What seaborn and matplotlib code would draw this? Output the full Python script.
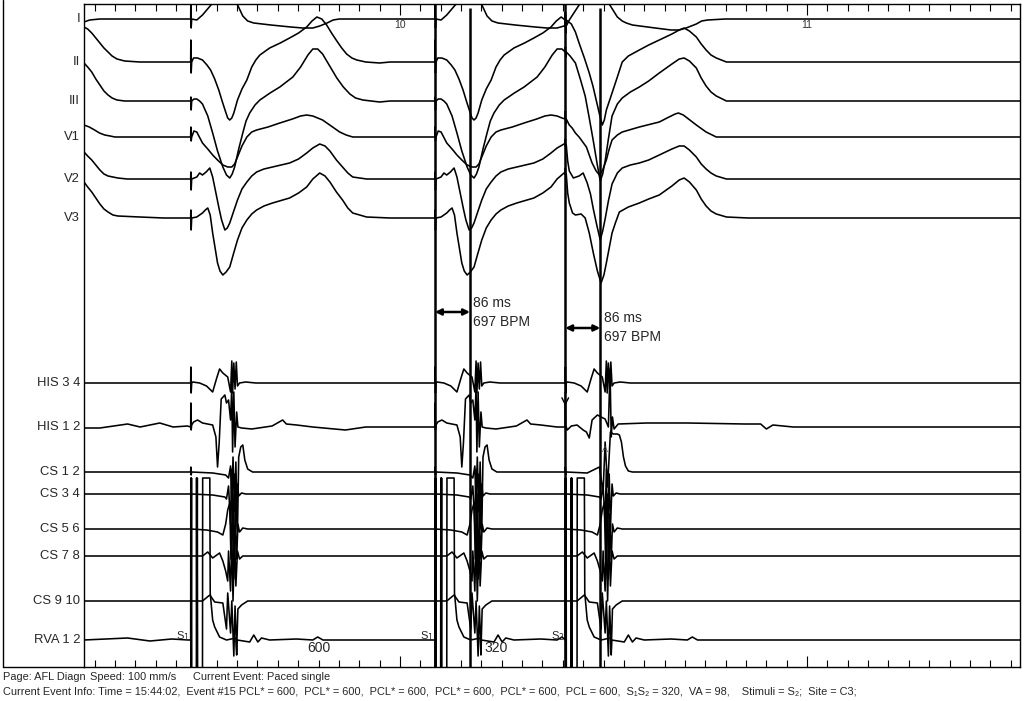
import numpy as np
import pandas as pd
import matplotlib
matplotlib.use("Agg")
import matplotlib.pyplot as plt
import seaborn as sns
from matplotlib.lines import Line2D
from matplotlib.transforms import blended_transform_factory

# ---------------- data (time in ms, deflection in display units, + = up) ----------------
XMIN, XMAX = 9224, 11523
STIM_MS = [9486, 10086, 10406]          # S1, S1, S2
CURSOR_MS = [10086, 10172, 10406, 10492]
INTERVAL_LABELS = ["600", "320"]
MEASURE_MS = ["86 ms", "86 ms"]
MEASURE_BPM = ["697 BPM", "697 BPM"]
CHANNELS = ["I", "II", "III", "V1", "V2", "V3", "HIS 3 4", "HIS 1 2",
            "CS 1 2", "CS 3 4", "CS 5 6", "CS 7 8", "CS 9 10", "RVA 1 2"]

# surface ECG: tail of previous beat, S1 paced beat template, S2 paced beat template
I_PRE = [(9224, -3), (9238, -1), (9263, 0)]
I_S1 = [(0, 0), (0.4, 14), (1.2, -9), (2.5, 0), (15, -1), (29, 4), (54, 16), (69, 32), (84, 40),
        (98, 32), (113, 16), (128, 3), (140, -2), (155, -4), (197, -6), (246, -8), (275, -9),
        (300, -9), (317, -7), (335, -4), (350, -1), (365, 0), (470, 0)]
I_S2 = [(0, -7), (0.4, 5), (1.2, -14), (2.5, -7), (10, -1), (34, 14), (59, 38), (84, 36), (108, 15),
        (128, 2), (140, -2), (150, -4), (165, -6), (221, -9), (260, -11), (280, -11), (297, -9),
        (322, -5), (335, -2), (350, -1), (393, 0)]

II_PRE = [(9224, 35), (9233, 33), (9243, 29), (9253, 24), (9263, 19), (9273, 14), (9283, 10),
          (9293, 6), (9305, 3), (9324, 1), (9361, 0)]
II_S1 = [(0, 0), (0.4, 22), (1.2, -11), (2.5, 0), (7, 4), (17, 4), (29, 2), (40, -3), (49, -8),
         (59, -17), (69, -28), (78, -40), (86, -50), (91, -56), (96, -58), (101, -56), (106, -51),
         (115, -38), (126, -27), (138, -18), (150, -5), (160, 2), (170, 7), (194, 14), (220, 19),
         (243, 24), (265, 29), (285, 35), (298, 41), (310, 45), (322, 43), (334, 37), (346, 29),
         (359, 21), (371, 14), (383, 8), (396, 4), (408, 2), (430, 0), (464, -1), (490, 0)]
II_S2 = [(0, 42), (0.4, 50), (1.2, 34), (2.5, 42), (15, 38), (25, 30), (34, 19), (47, 4), (59, -11),
         (68, -24), (76, -38), (84, -52), (91, -63), (96, -58), (101, -48), (115, -31), (128, -15),
         (140, 0), (155, 6), (182, 12), (205, 17), (231, 22), (262, 28), (280, 32), (292, 34),
         (305, 31), (322, 25), (334, 18), (346, 12), (358, 7), (371, 4), (396, 0)]

III_PRE = [(9224, 38), (9233, 34), (9243, 29), (9253, 22), (9263, 16), (9273, 10), (9283, 6),
           (9293, 3), (9305, 1), (9324, 0)]
III_S1 = [(0, 0), (0.4, 4), (1.2, -9), (2.5, 0), (8, 2), (15, 2), (22, 0), (29, -3), (42, -15),
          (54, -32), (66, -50), (79, -66), (88, -74), (96, -77), (102, -73), (108, -66), (118, -48),
          (128, -32), (136, -20), (145, -12), (158, -4), (170, 1), (195, 8), (219, 14), (251, 24),
          (270, 34), (288, 46), (300, 52), (312, 52), (324, 47), (340, 36), (359, 23), (375, 14),
          (391, 7), (405, 3), (423, 1), (464, -1), (490, 0)]
III_S2 = [(0, 49), (0.4, 54), (1.2, 44), (2.5, 49), (12, 45), (25, 38), (37, 22), (49, 5), (59, -17),
          (69, -40), (78, -62), (86, -80), (92, -73), (98, -60), (106, -38), (115, -15), (128, -3),
          (140, 3), (160, 9), (182, 14), (205, 20), (231, 28), (262, 37), (280, 42), (292, 43),
          (305, 40), (322, 33), (334, 23), (346, 15), (358, 9), (371, 5), (396, 0)]

V1_PRE = [(9224, 12), (9237, 10), (9250, 7), (9262, 4), (9275, 2), (9288, 1), (9300, 0)]
V1_S1 = [(0, 0), (0.4, 10), (1.2, -4), (2.5, 0), (8, 6), (15, 5), (29, -6), (42, -12), (54, -18),
         (66, -23), (79, -28), (91, -30), (101, -30), (108, -27), (115, -20), (126, -9), (138, 0),
         (150, 5), (162, 7), (190, 10), (219, 14), (250, 18), (270, 21), (285, 22), (300, 21),
         (312, 19), (324, 17), (345, 11), (366, 5), (382, 2), (398, 0)]
V1_S2 = [(0, 18), (0.4, 26), (1.2, 13), (2.5, 18), (10, 12), (17, 9), (25, 4), (34, 0), (52, -10),
         (66, -26), (76, -34), (84, -38), (92, -33), (101, -23), (108, -12), (115, -3), (128, 2),
         (140, 5), (182, 10), (231, 15), (255, 20), (270, 23), (278, 24), (290, 22), (306, 17),
         (322, 12), (346, 5), (371, 0)]

V2_PRE = [(9224, 27), (9233, 23), (9243, 19), (9253, 14), (9263, 9), (9273, 5), (9283, 3),
          (9295, 2), (9307, 1), (9330, 0)]
V2_S1 = [(0, 0), (0.4, 7), (1.2, -11), (2.5, 0), (15, 2), (22, 6), (29, 4), (38, 7), (47, 11),
         (54, 2), (64, -18), (70, -30), (76, -41), (84, -51), (90, -49), (96, -44), (105, -33),
         (115, -21), (126, -10), (138, -3), (150, 3), (162, 7), (180, 10), (201, 12), (243, 16),
         (265, 20), (285, 26), (300, 31), (317, 35), (330, 33), (342, 28), (358, 19), (373, 12),
         (386, 6), (398, 2), (432, 0)]
V2_S2 = [(0, 34), (0.4, 40), (1.2, 28), (2.5, 34), (6, 18), (10, 8), (20, 1), (34, 3), (44, 6),
         (54, -4), (62, -15), (69, -30), (78, -47), (86, -61), (92, -52), (98, -40), (106, -22),
         (115, -5), (128, 6), (140, 11), (160, 14), (182, 16), (205, 19), (231, 24), (262, 30),
         (280, 33), (292, 33), (305, 29), (322, 22), (334, 15), (346, 10), (358, 6), (371, 3), (396, 0)]

V3_PRE = [(9224, 36), (9233, 31), (9243, 26), (9253, 20), (9263, 14), (9273, 9), (9283, 6),
          (9295, 3), (9307, 2), (9361, 1), (9420, 0)]
V3_S1 = [(0, 0), (0.4, 8), (1.2, -12), (2.5, 0), (15, 1), (29, 5), (36, 8), (42, 10), (48, 3),
         (54, -15), (60, -30), (66, -45), (72, -53), (79, -57), (87, -54), (96, -49), (105, -36),
         (115, -22), (126, -10), (138, -2), (150, 4), (162, 8), (180, 12), (201, 15), (243, 20),
         (265, 25), (285, 31), (300, 39), (317, 45), (330, 42), (342, 36), (358, 26), (373, 18),
         (386, 10), (398, 5), (432, 1), (490, 0)]
V3_S2 = [(0, 44), (0.4, 50), (1.2, 38), (2.5, 44), (6, 25), (10, 15), (18, 5), (25, 3), (39, 4),
         (49, 0), (59, -15), (69, -35), (79, -53), (88, -65), (95, -57), (101, -45), (108, -30),
         (115, -15), (124, -4), (133, 6), (155, 11), (182, 15), (205, 19), (231, 23), (262, 32),
         (280, 38), (292, 40), (305, 36), (322, 28), (334, 19), (346, 12), (358, 7), (371, 4),
         (396, 1), (450, 0)]

# intracardiac electrograms
FLAT_PRE = [(9224, 0)]
HIS12_PRE = [(9224, -1), (9263, -1), (9297, 1), (9331, 3), (9362, 0), (9410, 4), (9443, 0), (9478, 1)]
RVA_PRE = [(9224, 0), (9331, 2), (9386, -1), (9440, 1), (9480, 0)]

HIS34_S1 = [(0, 0), (0.4, 16), (1.2, -10), (2.5, 0), (5, 1), (22, 0), (39, -3), (54, -9), (64, 5),
            (71, 14), (79, 10), (91, 6), (98, -9), (101, 22), (103, -10), (106, 20), (109, -6),
            (112, 21), (115, -3), (120, 0), (135, 1), (160, 0)]
HIS12_S1 = [(0, 0), (0.4, 24), (1.2, -3), (2.5, 2), (7, 5), (17, 7), (29, 4), (54, 2), (62, -10),
            (66, -40), (70, -16), (75, 28), (84, 32), (88, 24), (93, 27), (98, 7), (101, 40),
            (103, -25), (106, 35), (109, -20), (113, 15), (116, 0), (125, -1), (150, -2), (200, 1),
            (226, 7), (235, 3), (260, 2), (300, 0), (380, -3), (430, 0)]
HIS12_S2 = [(0, 0), (0.4, 24), (1.2, -3), (2.5, 0), (5, -3), (15, 1), (29, 2), (44, -3), (52, -5),
            (59, -11), (66, 7), (79, 12), (88, 10), (98, 8), (106, 0), (110, 58), (113, -10),
            (116, 10), (120, -2), (130, 3), (200, 4), (300, 4), (440, 3), (480, 3), (494, -2),
            (510, 2), (560, 0)]
CS12_S1 = [(0, 0), (0.4, 5), (1.2, -3), (2.5, 0), (54, -1), (86, -3), (93, -6), (98, 6), (101, -35),
           (104, 15), (108, -40), (111, 10), (115, -60), (118, 15), (123, 25), (128, 27), (133, 12),
           (140, 3), (152, 0)]
CS12_S2 = [(0, 0), (0.4, 5), (1.2, -3), (2.5, 0), (54, -1), (84, 5), (93, -20), (98, 30), (104, -15),
           (111, 40), (118, 38), (128, 38), (133, 37), (138, 30), (143, 15), (148, 6), (155, 1), (165, 0)]
CS34_S1 = [(0, 0), (0.4, 2), (1.2, -2), (2.5, 0), (54, -1), (84, -3), (88, -5), (93, 8), (98, -30),
           (101, 25), (104, -45), (108, 20), (111, -35), (115, 10), (118, -2), (125, 1), (135, 0)]
CS56_S1 = [(0, 0), (39, -1), (66, -3), (79, -6), (86, 5), (91, 19), (96, 26), (99, -30), (103, 35),
           (106, -50), (109, 15), (113, -30), (116, 5), (120, -3), (128, 1), (140, 0)]
CS78_S1 = [(0, 0), (29, 0), (42, 4), (54, -2), (71, 3), (79, -5), (86, -15), (91, -25), (93, 5),
           (98, -35), (101, 25), (104, -45), (108, 20), (111, -30), (115, 5), (120, -3), (128, 0)]
CS910_S1 = [(0, 0), (29, 0), (47, 6), (59, -1), (79, -2), (88, -28), (91, 8), (98, -32), (101, 0),
            (106, -55), (109, -5), (113, -50), (116, -8), (125, -4), (140, 0)]
RVA_S1 = [(0, 0), (0.3, 162), (1.0, -40), (2.0, 162), (2.7, -40), (14, -40), (14.5, 162), (15.2, -40),
          (16.3, 162), (17, -40), (29, -40), (29.5, 162), (47, 162), (48, 47), (54, 20), (59, 13),
          (71, 3), (88, 0), (111, 2), (113, -15), (114, 0), (145, -2), (155, 5), (165, -2), (174, 2),
          (194, 0), (260, 1), (300, 0), (312, 3), (325, 0)]

PRE = [I_PRE, II_PRE, III_PRE, V1_PRE, V2_PRE, V3_PRE, FLAT_PRE, HIS12_PRE,
       FLAT_PRE, FLAT_PRE, FLAT_PRE, FLAT_PRE, FLAT_PRE, RVA_PRE]
TPL_S1 = [I_S1, II_S1, III_S1, V1_S1, V2_S1, V3_S1, HIS34_S1, HIS12_S1,
          CS12_S1, CS34_S1, CS56_S1, CS78_S1, CS910_S1, RVA_S1]
TPL_S2 = [I_S2, II_S2, III_S2, V1_S2, V2_S2, V3_S2, HIS34_S1, HIS12_S2,
          CS12_S2, CS34_S1, CS56_S1, CS78_S1, CS910_S1, RVA_S1]

# ---------------- layout (screen rows of each channel baseline) ----------------
BASE_ROW = [19, 62, 101, 137, 179, 218, 383, 427, 472, 494, 529, 556, 601, 640]
W, H = 1024, 701
AX_L, AX_R, AX_T, AX_B = 84, 1020, 4, 667


def build(pre, s1, s2):
    pts = list(pre)
    for k, stim in enumerate(STIM_MS):
        tpl = s2 if k == len(STIM_MS) - 1 else s1
        nxt = STIM_MS[k + 1] if k + 1 < len(STIM_MS) else XMAX
        for dt, a in tpl:
            if stim + dt < nxt:
                pts.append((stim + dt, a))
    pts.append((XMAX, 0))
    return pts


rows = []
for ch, base, pre, s1, s2 in zip(CHANNELS, BASE_ROW, PRE, TPL_S1, TPL_S2):
    for order, (t, a) in enumerate(build(pre, s1, s2)):
        rows.append((ch, order, t, base - a))
df = pd.DataFrame(rows, columns=["channel", "order", "t", "y"])

# ---------------- drawing ----------------
sns.set_theme(style="white")
plt.rcParams["font.family"] = ["Liberation Sans", "DejaVu Sans"]

fig = plt.figure(figsize=(W / 100, H / 100), dpi=100)
ax = fig.add_axes([AX_L / W, 1 - AX_B / H, (AX_R - AX_L) / W, (AX_B - AX_T) / H])

sns.lineplot(data=df, x="t", y="y", units="channel", estimator=None, sort=False,
             color="black", linewidth=1.15, ax=ax, legend=False)

ax.set_xlim(XMIN, XMAX)
ax.set_ylim(AX_B, AX_T)
ax.set_xlabel("")
ax.set_ylabel("")
ax.set_yticks([])
ax.set_xticks([10000, 11000])
ax.set_xticks(np.arange(9250, XMAX, 50), minor=True)
ax.set_xticklabels([])
ax.tick_params(axis="x", which="both", direction="in", top=True, bottom=True,
               color="black", width=0.8, labelbottom=False)
ax.tick_params(axis="x", which="major", length=8)
ax.tick_params(axis="x", which="minor", length=5)
for sp in ax.spines.values():
    sp.set_color("black")
    sp.set_linewidth(1.0)
    sp.set_visible(True)

for k, t in enumerate(CURSOR_MS):
    top = AX_T if k % 2 == 0 else 8
    ax.vlines(t, top, AX_B, color="black", lw=1.8, zorder=3)

# second marks
for t, lab in [(10000, "10"), (11000, "11")]:
    ax.text(t, 25, lab, ha="center", va="center", fontsize=7.5, color="#333333")

# interval measurement arrows
for (t0, t1), yr, ytxt, ms_lab, bpm_lab in [((CURSOR_MS[0], CURSOR_MS[1]), 312, 303, MEASURE_MS[0], MEASURE_BPM[0]),
                                             ((CURSOR_MS[2], CURSOR_MS[3]), 328, 318, MEASURE_MS[1], MEASURE_BPM[1])]:
    ax.annotate("", xy=(t0, yr), xytext=(t1, yr),
                arrowprops=dict(arrowstyle="<|-|>", color="black", lw=1.8,
                                mutation_scale=9, shrinkA=0, shrinkB=0))
    ax.text(t1 + 8, ytxt, ms_lab, ha="left", va="center", fontsize=10)
    ax.text(t1 + 8, ytxt + 19, bpm_lab, ha="left", va="center", fontsize=10)

# stimulus labels
for k, t in enumerate(STIM_MS):
    sub = "2" if k == len(STIM_MS) - 1 else "1"
    ax.text(t - 2, 636, r"S$_{%s}$" % sub, ha="right", va="center", fontsize=8)

# coupling interval labels
for k, lab in enumerate(INTERVAL_LABELS):
    mid = STIM_MS[k] + 0.5 * (STIM_MS[k + 1] - STIM_MS[k])
    ax.text(mid + (15 if k == 0 else -10), 648, lab, ha="center", va="center", fontsize=10)

ax.annotate("", xy=(STIM_MS[2], 406), xytext=(STIM_MS[2], 392),
            arrowprops=dict(arrowstyle="->", color="black", lw=1.0, shrinkA=0, shrinkB=0))
ax.text(STIM_MS[2] + 98, 450, "A", fontsize=6.5, color="#555555", ha="center", va="center")

# channel labels
trans = blended_transform_factory(ax.transAxes, ax.transData)
for ch, base in zip(CHANNELS, BASE_ROW):
    ax.text(-4 / (AX_R - AX_L), base, ch, transform=trans, ha="right", va="center", fontsize=9.4)

# outer frame of the label column
fig.add_artist(Line2D([3 / W, 3 / W], [1 - AX_B / H, 1.0], color="black", lw=1.0))
fig.add_artist(Line2D([3 / W, AX_L / W], [1 - AX_B / H, 1 - AX_B / H], color="black", lw=1.0))

# footer text
foot = ["Liberation Sans", "DejaVu Sans"]
fs = 7.9
fig.text(3 / W, 1 - 677 / H, "Page: AFL Diagn", fontsize=fs, family=foot, va="center")
fig.text(90 / W, 1 - 677 / H, "Speed: 100 mm/s", fontsize=fs, family=foot, va="center")
fig.text(193 / W, 1 - 677 / H, "Current Event: Paced single", fontsize=fs, family=foot, va="center")
fig.text(3 / W, 1 - 691 / H,
         "Current Event Info: Time = 15:44:02,  Event #15 PCL* = 600,  PCL* = 600,  PCL* = 600,  "
         "PCL* = 600,  PCL* = 600,  PCL = 600,  S\u2081S\u2082 = 320,  VA = 98,    Stimuli = S\u2082;  Site = C3;",
         fontsize=fs, family=foot, va="center")

fig.savefig("out.png", dpi=100)
